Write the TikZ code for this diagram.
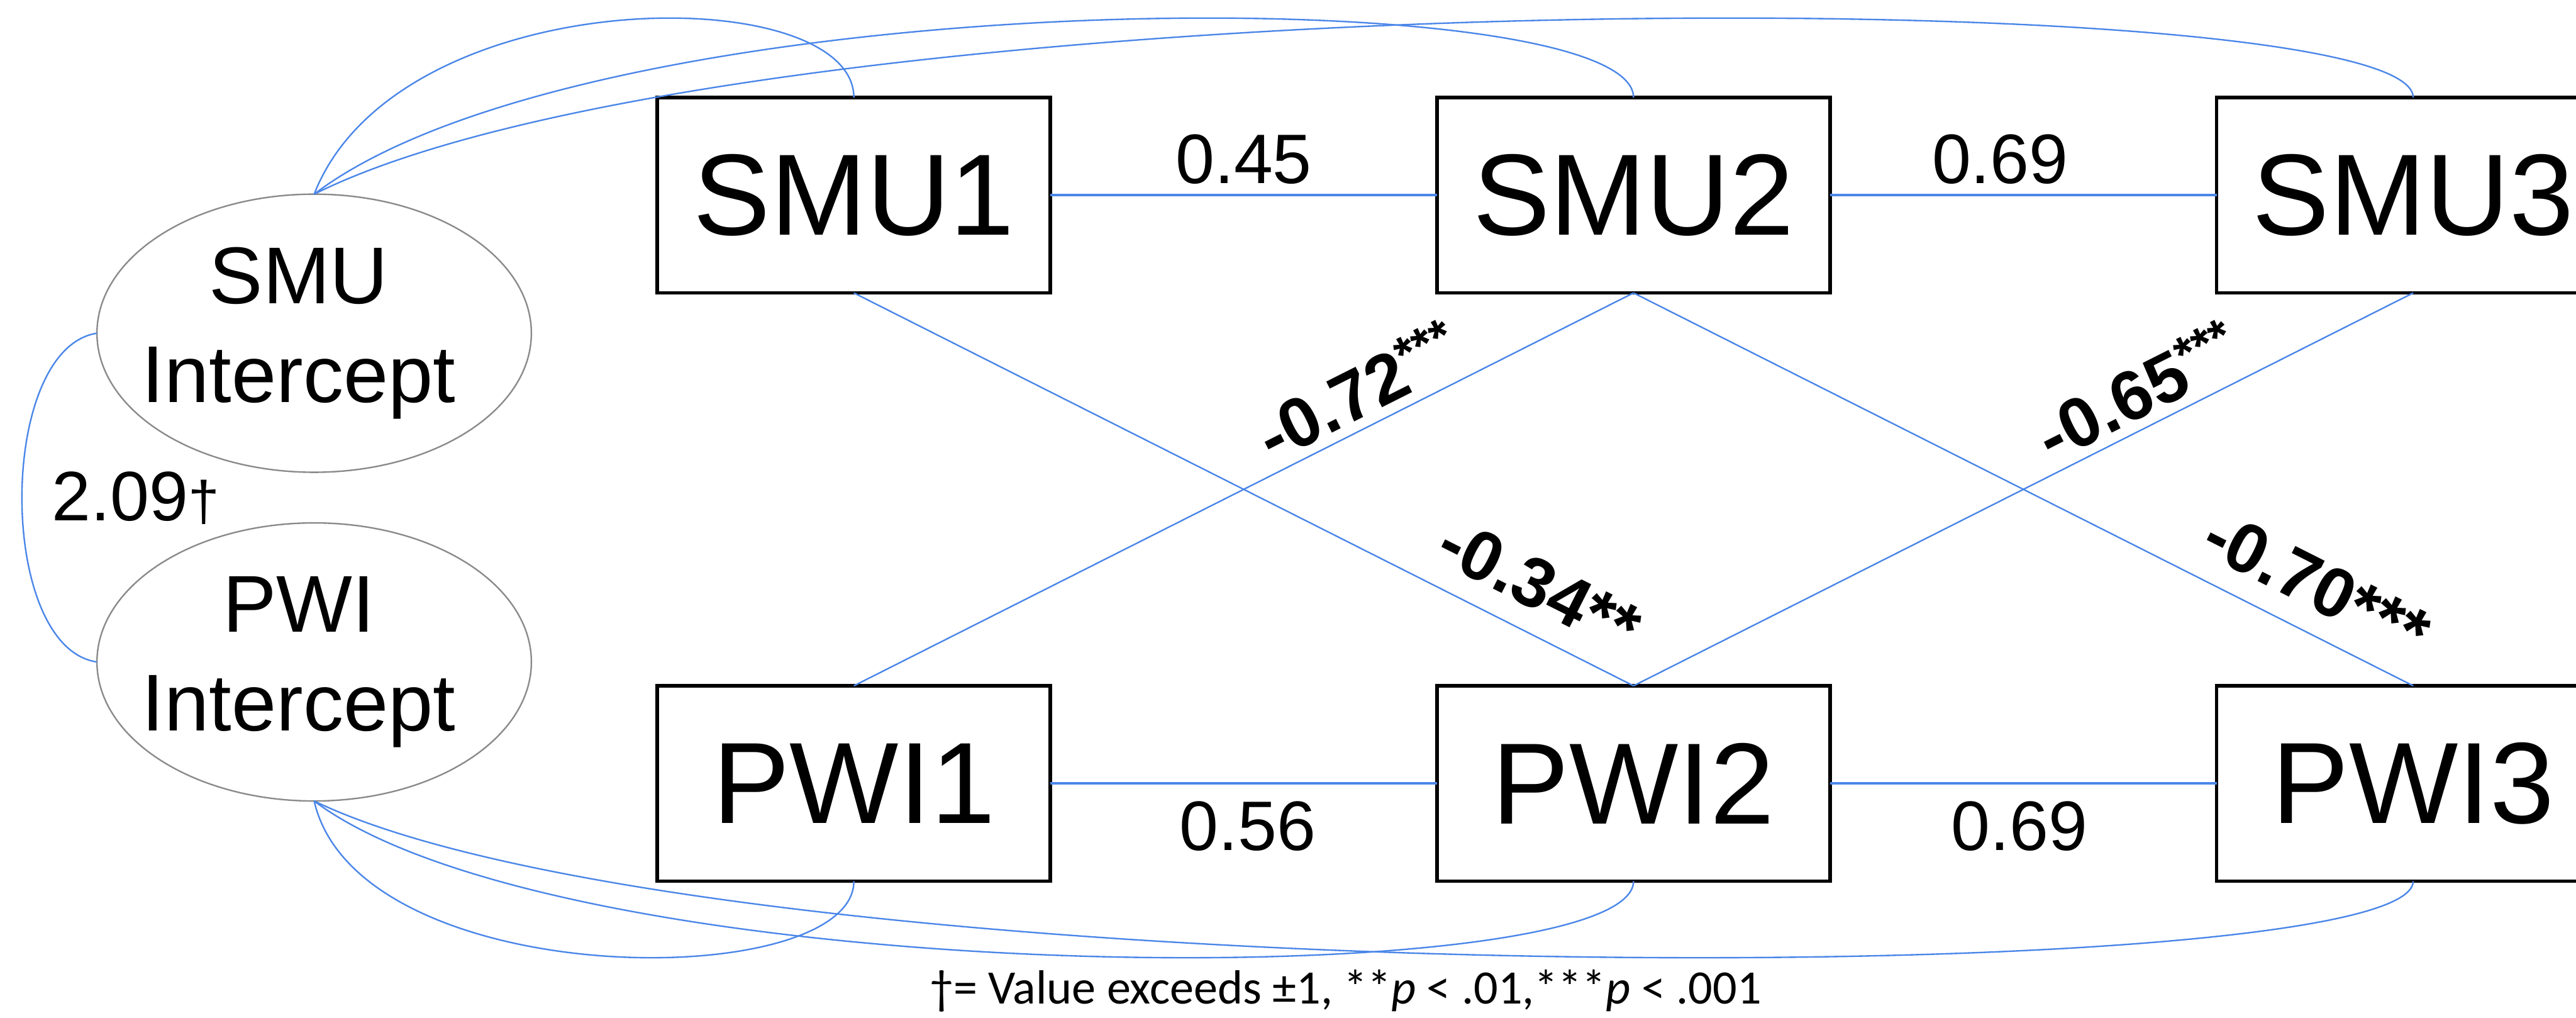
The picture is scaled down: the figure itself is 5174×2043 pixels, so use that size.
\documentclass[tikz,border=0pt]{standalone}
\usepackage{fontspec}
\setmainfont{Liberation Sans}
\newfontfamily\notefont{Carlito}
\usetikzlibrary{shapes.geometric}
\definecolor{linkblue}{HTML}{4A86E8}
\definecolor{ovalgray}{HTML}{8A8A8A}
% one line of an oval's text, of no width, set a little left of the centre
\newcommand{\ovalline}[1]{\makebox[0pt]{#1\hspace*{0.62cm}}}

\begin{document}
\begin{tikzpicture}[x=0.01cm, y=-0.01cm,
  obsbox/.style={draw=black, fill=white, line width=2pt, rectangle,
    minimum width=7.89cm, minimum height=3.92cm, inner sep=0pt, outer sep=0pt,
    font=\fontsize{66}{79}\selectfont},
  latent/.style={draw=ovalgray, fill=white, line width=0.85pt, ellipse,
    minimum width=8.72cm, minimum height=5.58cm, inner sep=0pt, outer sep=0pt,
    align=center, font=\fontsize{46}{56.6}\selectfont},
  stab/.style={draw=linkblue, line width=1.4pt},
  lagline/.style={draw=linkblue, line width=0.85pt},
  cov/.style={draw=linkblue, line width=0.85pt},
  coef/.style={font=\fontsize{40}{48}\selectfont, inner xsep=0pt},
  bcoef/.style={font=\fontsize{40}{48}\selectfont\bfseries, sloped, above, inner xsep=0pt},
]
\useasboundingbox (0,0) rectangle (5174,2043);
\clip (0,0) rectangle (5174,2043);
\fill[white] (0,0) rectangle (5174,2043);

% observed measures
\node[obsbox] (smu1) at (1715,392) {SMU1};
\node[obsbox] (smu2) at (3281,392) {SMU2};
\node[obsbox] (smu3) at (4847,392) {SMU3};
\node[obsbox] (pwi1) at (1715,1573) {PWI1};
\node[obsbox] (pwi2) at (3281,1573) {PWI2};
\node[obsbox] (pwi3) at (4847,1573) {PWI3};

% random intercepts
\node[latent] (smuI) at (631,669) {\ovalline{SMU}\\\ovalline{Intercept}};
\node[latent] (pwiI) at (631,1329) {\ovalline{PWI}\\\ovalline{Intercept}};

% autoregressive paths
\draw[stab] (smu1.east) -- node[coef, above, inner ysep=0.2cm] (a1) {0.45} (smu2.west);
\draw[stab] (smu2.east) -- node[coef, above, pos=0.44, inner ysep=0.2cm] (a2) {0.69} (smu3.west);
\draw[stab] (pwi1.east) -- node[coef, below, pos=0.51, inner ysep=0.34cm] (a3) {0.56} (pwi2.west);
\draw[stab] (pwi2.east) -- node[coef, below, pos=0.49, inner ysep=0.34cm] (a4) {0.69} (pwi3.west);

% cross-lagged paths
\draw[lagline] (pwi1.north) -- node[bcoef, pos=0.667, inner ysep=0.18cm] (c1)
  {-0.72\raisebox{0.3em}{\fontsize{28}{30}\selectfont ***}} (smu2.south);
\draw[lagline] (pwi2.north) -- node[bcoef, pos=0.667, inner ysep=0.18cm] (c2)
  {-0.65\raisebox{0.3em}{\fontsize{28}{30}\selectfont ***}} (smu3.south);
\draw[lagline] (smu1.south) -- node[bcoef, pos=0.852, inner ysep=0.44cm] (c3)
  {-0.34**} (pwi2.north);
\draw[lagline] (smu2.south) -- node[bcoef, pos=0.849, inner ysep=0.44cm] (c4)
  {-0.70***} (pwi3.north);

% intercept covariance
\draw[cov] (smuI.west) .. controls +(-201,31) and +(-201,-29) ..
  node[coef, pos=0.5, anchor=west, inner xsep=0.59cm, inner ysep=0pt] (r1)
  {2.09{\fontsize{32}{32}\selectfont †}} (pwiI.west);

% intercept loadings, top
\draw[cov] (smuI.north) .. controls +(169,-432) and +(0,-238) .. (smu1.north);
\draw[cov] (smuI.north) .. controls +(568,-432) and +(0,-238) .. (smu2.north);
\draw[cov] (smuI.north) .. controls +(864,-432) and +(0,-238) .. (smu3.north);

% intercept loadings, bottom
\draw[cov] (pwiI.south) .. controls +(89,388) and +(0,226) .. (pwi1.south);
\draw[cov] (pwiI.south) .. controls +(517,388) and +(0,226) .. (pwi2.south);
\draw[cov] (pwiI.south) .. controls +(803,388) and +(0,226) .. (pwi3.south);

% note
\node[anchor=base west, inner sep=0pt, font=\notefont\fontsize{27.4}{33}\selectfont] (note)
  at (1867,2015) {†= Value exceeds ±1, **\textit{p} < .01,***\textit{p} < .001};
\end{tikzpicture}
\end{document}
